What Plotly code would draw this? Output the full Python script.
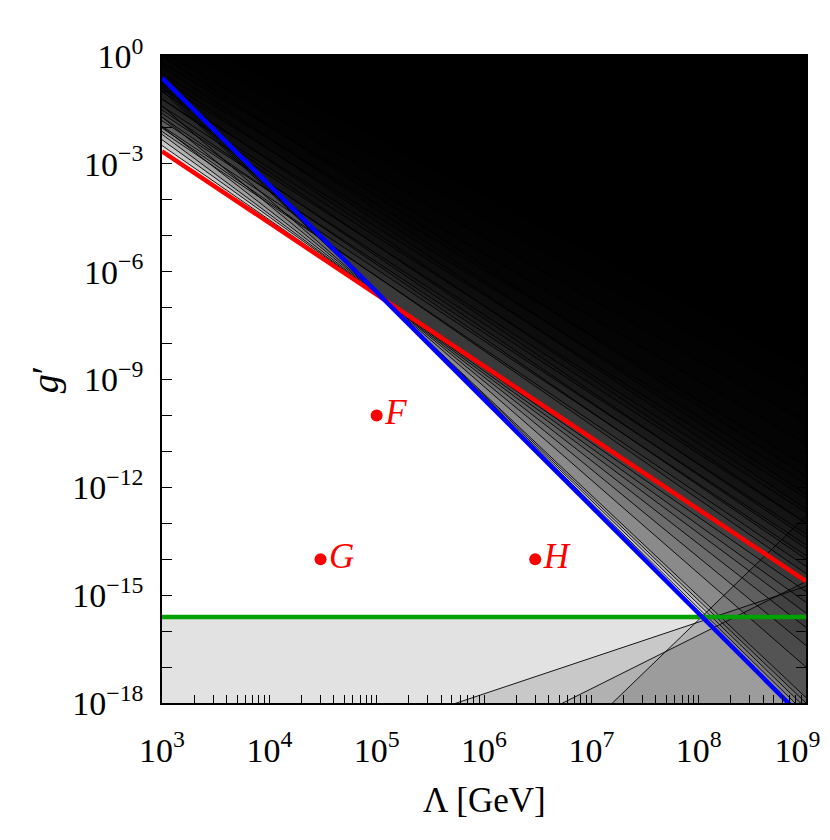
import plotly.graph_objects as go

# edges of the Λ range [GeV]
lam_left = 1e3
lam_right = 1e9

# upper-bound exclusions: log10 g' where each boundary meets Λ=1e3 and Λ=1e9
fan_left_exp = [-2.49, -2.33, -2.18, -1.97, -1.70, -1.39, -0.95, -0.87, -0.79, -0.71]
fan_right_exp = [-14.9, -15.2, -15.5, -15.9, -16.4, -17.0, -17.85, -18.0, -18.15, -18.3]
high_left_exp = [-2.10, -2.00, -1.95, -1.80, -1.70, -1.60, -1.50, -1.40, -1.20, -1.20, -1.00, -0.90,
                 -0.75, -0.60, -0.50, -0.30, -0.20, 0.00, 0.10, 0.50, 0.90,
                 1.30, 2.00, 3.00, 1.20, 0.60, 0.40, 0.20]
high_right_exp = [-14.2, -14.4, -13.9, -13.6, -14.0, -13.3, -13.7, -13.0, -12.7, -13.4, -12.3, -13.0,
                  -11.9, -12.6, -11.4, -12.2, -10.8, -11.7, -10.2, -9.5, -8.7,
                  -7.9, -6.8, -5.3, -4.2, -2.8, -1.6, -0.7]
top_left_exp = [2.0, 1.5, 2.5, 3.0, 4.0, 3.5, 5.0, 4.5, 6.0, 5.0]
top_right_exp = [-1.1, -1.5, -2.0, -2.5, -3.8, -4.9, -6.0, -7.0, -7.8, -8.3]

# lower-bound exclusions (excluded below the line)
low_left_exp = [-20.74, -23.57, -30.10]
low_right_exp = [-14.75, -14.62, -12.80]

# highlighted bounds
blue_exp = [-0.61, -18.49]
red_exp = [-2.65, -14.61]
green_exp = -15.61

# benchmark points
bench_names = ['F', 'G', 'H']
bench_lam = [1e5, 3e4, 3e6]
bench_g = [1e-10, 1e-14, 1e-14]

g_ceiling = 1e8
g_floor = 1e-45
shade = 'rgba(0,0,0,0.115)'

fig = go.Figure()

thin_left = fan_left_exp + high_left_exp + top_left_exp
thin_right = fan_right_exp + high_right_exp + top_right_exp
up_left = thin_left + blue_exp[:1] + red_exp[:1]
up_right = thin_right + blue_exp[1:] + red_exp[1:]

# shaded regions above each upper bound
for l, r in zip(up_left, up_right):
    fig.add_trace(go.Scatter(
        x=[lam_left, lam_right, lam_right, lam_left],
        y=[10 ** l, 10 ** r, g_ceiling, g_ceiling],
        mode='lines', fill='toself', fillcolor=shade,
        line=dict(width=0), hoverinfo='skip', showlegend=False))

# shaded regions below each lower bound (incl. the green one)
for l, r in zip(low_left_exp + [green_exp], low_right_exp + [green_exp]):
    fig.add_trace(go.Scatter(
        x=[lam_left, lam_right, lam_right, lam_left],
        y=[10 ** l, 10 ** r, g_floor, g_floor],
        mode='lines', fill='toself', fillcolor=shade,
        line=dict(width=0), hoverinfo='skip', showlegend=False))

# thin boundary lines
lx, ly = [], []
for l, r in zip(thin_left + low_left_exp, thin_right + low_right_exp):
    lx += [lam_left, lam_right, None]
    ly += [10 ** l, 10 ** r, None]
fig.add_trace(go.Scatter(x=lx, y=ly, mode='lines', line=dict(color='black', width=0.9),
                         hoverinfo='skip', showlegend=False))

# coloured bounds
fig.add_trace(go.Scatter(x=[lam_left, lam_right], y=[10 ** green_exp, 10 ** green_exp], mode='lines',
                         line=dict(color='#00a000', width=4.5), showlegend=False))
fig.add_trace(go.Scatter(x=[lam_left, lam_right], y=[10 ** red_exp[0], 10 ** red_exp[1]], mode='lines',
                         line=dict(color='#ff0000', width=4.5), showlegend=False))
fig.add_trace(go.Scatter(x=[lam_left, lam_right], y=[10 ** blue_exp[0], 10 ** blue_exp[1]], mode='lines',
                         line=dict(color='#0000ff', width=4.5), showlegend=False))

# benchmark points
fig.add_trace(go.Scatter(
    x=bench_lam, y=bench_g, mode='markers+text', text=bench_names,
    textposition='middle right',
    textfont=dict(family='Liberation Serif', size=35, color='red', style='italic'),
    marker=dict(color='red', size=12), showlegend=False))

font = 'Liberation Serif'
x_exps = list(range(3, 10))
y_exps = list(range(-18, 1, 3))
x_minor = [k * 10 ** e for e in range(3, 9) for k in range(2, 10)]
y_minor = [10 ** e for e in range(-18, 1)]


def sup(e):
    return '10<sup>%s</sup>' % (str(e) if e >= 0 else '\u2212' + str(-e))


x_text = [sup(e) for e in x_exps]
x_text[-1] += '\u2002'  # nudge the last label inside the page

# page body has an 8px margin, so the figure is 8px smaller and shifted
fig.update_layout(
    width=822, height=832,
    margin=dict(l=154, r=24, t=48, b=137, autoexpand=False),
    paper_bgcolor='white', plot_bgcolor='white',
    xaxis=dict(
        type='log', range=[3, 9], automargin=False, ticklabeloverflow='allow',
        tickvals=[10 ** e for e in x_exps],
        ticktext=x_text,
        ticks='inside', ticklen=8, tickwidth=1.3, tickcolor='black',
        showline=True, linecolor='black', linewidth=1.5, mirror='ticks',
        showgrid=False, zeroline=False, ticklabelstandoff=16,
        tickfont=dict(family=font, size=34, color='black'),
        minor=dict(tickvals=x_minor, ticks='inside', ticklen=8, tickwidth=1.3, tickcolor='black', showgrid=False),
    ),
    yaxis=dict(
        type='log', range=[-18, 0], automargin=False,
        tickvals=[10.0 ** e for e in y_exps],
        ticktext=[sup(e) for e in y_exps],
        ticks='inside', ticklen=10, tickwidth=1.3, tickcolor='black',
        showline=True, linecolor='black', linewidth=1.5, mirror='ticks',
        showgrid=False, zeroline=False, ticklabelstandoff=10,
        tickfont=dict(family=font, size=34, color='black'),
        minor=dict(tickvals=y_minor, ticks='inside', ticklen=10, tickwidth=1.3, tickcolor='black', showgrid=False),
    ),
    annotations=[
        dict(text='\u039b [GeV]', xref='paper', yref='paper', x=0.5, y=-0.15,
             showarrow=False, font=dict(family=font, size=35, color='black'), yanchor='middle'),
        dict(text='<i>g</i>\u2032', xref='paper', yref='paper', x=-0.182, y=0.5,
             showarrow=False, textangle=-90, font=dict(family=font, size=38, color='black'),
             xanchor='center', yanchor='middle'),
    ],
)

fig.write_html('out.html')
